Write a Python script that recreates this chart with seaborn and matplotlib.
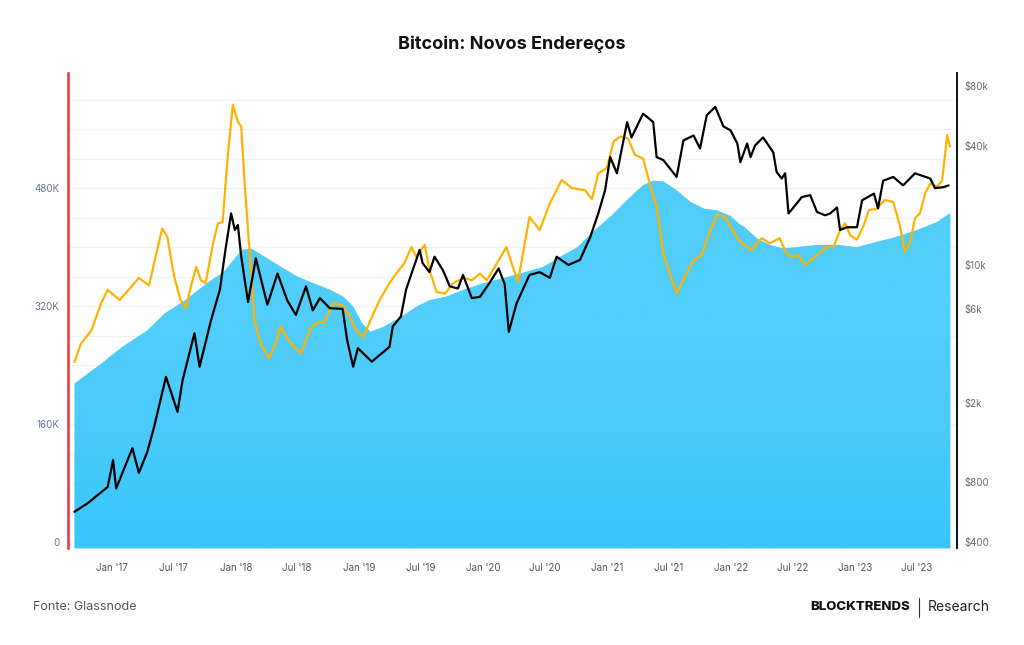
import numpy as np
import pandas as pd
import matplotlib
matplotlib.use("Agg")
import matplotlib.pyplot as plt
import matplotlib.dates as mdates
from matplotlib.colors import LinearSegmentedColormap
from matplotlib.lines import Line2D
from matplotlib.ticker import FixedLocator, MultipleLocator, FuncFormatter, NullFormatter
import seaborn as sns

# --- data ---
# new addresses, smooth (area, left axis, thousands)
area_dates = ["2016-09-12", "2016-11-30", "2017-02-01", "2017-04-15", "2017-06-05", "2017-08-05",
              "2017-10-08", "2017-11-28", "2018-01-17", "2018-02-16", "2018-04-27", "2018-07-01",
              "2018-08-07", "2018-10-06", "2018-11-13", "2018-12-13", "2019-01-07", "2019-02-02",
              "2019-03-13", "2019-05-02", "2019-06-17", "2019-07-26", "2019-09-15", "2019-11-03",
              "2020-01-01", "2020-02-29", "2020-04-17", "2020-06-25", "2020-08-15", "2020-10-05",
              "2020-11-24", "2021-01-09", "2021-02-28", "2021-04-16", "2021-05-16", "2021-06-15",
              "2021-07-24", "2021-09-03", "2021-10-13", "2021-11-20", "2021-12-30", "2022-01-28",
              "2022-02-07", "2022-03-17", "2022-04-25", "2022-06-04", "2022-07-13", "2022-09-11",
              "2022-11-09", "2023-01-07", "2023-03-06", "2023-05-04", "2023-07-02", "2023-08-31",
              "2023-10-08"]
area_k = [215, 242, 265, 287, 310, 328, 351, 367, 396, 398, 378, 360, 353, 342, 333, 319, 297, 285,
          292, 305, 319, 328, 333, 342, 351, 358, 364, 373, 387, 400, 423, 441, 464, 484, 490, 489,
          477, 461, 452, 450, 442, 430, 428, 412, 403, 398, 400, 403, 403, 400, 407, 414, 423, 434,
          446]

# new addresses, moving average (orange line, left axis, thousands)
orange_dates = ["2016-09-12", "2016-10-01", "2016-11-01", "2016-11-30", "2016-12-19", "2017-01-23",
                "2017-03-02", "2017-03-21", "2017-04-20", "2017-05-14", "2017-05-29", "2017-06-13",
                "2017-07-03", "2017-07-22", "2017-08-07", "2017-08-21", "2017-09-06", "2017-09-20",
                "2017-10-04", "2017-10-25", "2017-11-09", "2017-11-23", "2017-12-08", "2017-12-23",
                "2018-01-07", "2018-01-17", "2018-01-27", "2018-02-11", "2018-02-25", "2018-03-15",
                "2018-04-09", "2018-04-28", "2018-05-13", "2018-06-02", "2018-07-01", "2018-07-12",
                "2018-08-07", "2018-08-27", "2018-09-20", "2018-10-15", "2018-11-13", "2018-11-28",
                "2018-12-22", "2019-01-12", "2019-02-06", "2019-03-01", "2019-03-30", "2019-04-24",
                "2019-05-13", "2019-06-03", "2019-06-17", "2019-07-12", "2019-07-26", "2019-08-16",
                "2019-09-10", "2019-10-04", "2019-11-03", "2019-11-28", "2019-12-22", "2020-01-11",
                "2020-02-10", "2020-03-09", "2020-03-28", "2020-04-12", "2020-05-16", "2020-06-15",
                "2020-07-15", "2020-08-19", "2020-09-18", "2020-10-27", "2020-11-16", "2020-12-05",
                "2020-12-30", "2021-01-19", "2021-02-08", "2021-03-03", "2021-03-23", "2021-04-16",
                "2021-05-06", "2021-05-26", "2021-06-15", "2021-07-04", "2021-07-24", "2021-08-18",
                "2021-09-12", "2021-10-06", "2021-11-01", "2021-11-20", "2021-12-14", "2022-01-04",
                "2022-01-28", "2022-02-07", "2022-03-02", "2022-04-01", "2022-04-25", "2022-05-24",
                "2022-06-13", "2022-06-28", "2022-07-17", "2022-08-07", "2022-09-11", "2022-10-10",
                "2022-10-30", "2022-11-18", "2022-12-03", "2022-12-18", "2023-01-07", "2023-01-27",
                "2023-02-11", "2023-03-06", "2023-03-30", "2023-04-24", "2023-05-14", "2023-05-28",
                "2023-06-12", "2023-06-27", "2023-07-12", "2023-07-27", "2023-08-11", "2023-08-31",
                "2023-09-15", "2023-09-30", "2023-10-08"]
orange_k = [244, 269, 287, 324, 342, 328, 348, 358, 348, 396, 425, 414, 360, 328, 317, 346, 373, 355,
            351, 403, 432, 434, 522, 593, 570, 563, 486, 391, 301, 269, 249, 269, 292, 276, 260, 256,
            287, 297, 299, 324, 321, 310, 287, 278, 305, 328, 351, 367, 378, 400, 387, 403, 369, 339,
            337, 351, 358, 355, 364, 355, 378, 400, 373, 353, 441, 423, 459, 491, 480, 477, 465, 500,
            507, 543, 550, 547, 525, 520, 486, 455, 391, 364, 337, 360, 382, 389, 423, 443, 441, 423,
            407, 403, 396, 412, 405, 412, 391, 387, 389, 376, 389, 400, 400, 423, 432, 416, 410, 430,
            450, 452, 464, 461, 428, 394, 405, 439, 446, 473, 486, 482, 490, 552, 536]

# bitcoin price (black line, right log axis, USD)
price_dates = ["2016-09-12", "2016-10-22", "2016-12-19", "2017-01-04", "2017-01-13", "2017-03-02",
               "2017-03-21", "2017-04-15", "2017-05-05", "2017-06-09", "2017-07-13", "2017-07-28",
               "2017-09-01", "2017-09-16", "2017-10-20", "2017-11-15", "2017-11-30", "2017-12-18",
               "2017-12-29", "2018-01-07", "2018-01-17", "2018-02-06", "2018-03-01", "2018-04-04",
               "2018-05-04", "2018-06-02", "2018-06-27", "2018-07-27", "2018-08-16", "2018-09-06",
               "2018-10-05", "2018-11-12", "2018-11-25", "2018-12-13", "2018-12-27", "2019-02-06",
               "2019-03-30", "2019-04-09", "2019-05-03", "2019-05-18", "2019-06-27", "2019-07-06",
               "2019-07-26", "2019-08-10", "2019-09-04", "2019-09-24", "2019-10-18", "2019-11-02",
               "2019-11-28", "2019-12-22", "2020-01-21", "2020-02-15", "2020-03-04", "2020-03-16",
               "2020-04-08", "2020-05-16", "2020-06-15", "2020-07-15", "2020-08-04", "2020-09-08",
               "2020-10-12", "2020-11-11", "2020-12-05", "2020-12-25", "2021-01-09", "2021-01-29",
               "2021-02-28", "2021-03-13", "2021-04-16", "2021-05-16", "2021-05-26", "2021-06-15",
               "2021-07-24", "2021-08-13", "2021-09-12", "2021-10-01", "2021-10-21", "2021-11-15",
               "2021-12-09", "2021-12-30", "2022-01-19", "2022-01-28", "2022-02-17", "2022-02-27",
               "2022-03-12", "2022-04-05", "2022-05-05", "2022-05-15", "2022-05-30", "2022-06-09",
               "2022-06-19", "2022-07-13", "2022-07-28", "2022-08-22", "2022-09-11", "2022-10-05",
               "2022-10-20", "2022-11-09", "2022-11-18", "2022-12-08", "2023-01-07", "2023-01-22",
               "2023-02-26", "2023-03-10", "2023-03-25", "2023-04-24", "2023-05-23", "2023-06-27",
               "2023-08-11", "2023-08-25", "2023-09-19", "2023-10-04"]
price_usd = [568, 629, 758, 1036, 745, 1190, 893, 1141, 1524, 2725, 1814, 2620, 4520, 3065, 5270,
             7500, 11500, 18200, 15000, 15900, 11000, 6500, 10800, 6300, 9050, 6600, 5600, 7800,
             5900, 6800, 6050, 6000, 4200, 3065, 3800, 3250, 3860, 4900, 5500, 7500, 11900, 10200,
             9200, 11000, 9400, 7800, 7600, 8900, 6800, 6900, 8200, 9600, 8000, 4600, 6400, 8900,
             9200, 8600, 11000, 10000, 10600, 13800, 18200, 23800, 35000, 29000, 52600, 44000,
             58000, 52600, 35000, 33800, 27800, 42500, 45000, 38700, 57000, 62700, 50000, 47800,
             41000, 33000, 41000, 35000, 40000, 44000, 37000, 29400, 27300, 29000, 18200, 20400,
             22000, 22500, 18500, 17800, 18200, 19500, 15000, 15500, 15500, 21200, 22900, 19300,
             26600, 27800, 25200, 29000, 27300, 24400, 24700, 25200]

left_ticks = [0, 160, 320, 480]
right_ticks = [400, 800, 2000, 6000, 10000, 40000, 80000]
right_labels = ["$400", "$800", "$2k", "$6k", "$10k", "$40k", "$80k"]

area = pd.DataFrame({"date": pd.to_datetime(area_dates), "k": area_k})
orange = pd.DataFrame({"date": pd.to_datetime(orange_dates), "k": orange_k})
price = pd.DataFrame({"date": pd.to_datetime(price_dates), "usd": price_usd})

sns.set_theme(style="white")
plt.rcParams["font.family"] = ["Inter", "DejaVu Sans"]

fig = plt.figure(figsize=(10.24, 6.45), dpi=100)
ax = fig.add_axes([0.0664, 0.1504, 0.8682, 0.7364])

ybot, ytop = -8.1, 636
xlo, xhi = pd.Timestamp("2016-08-24"), pd.Timestamp("2023-10-29")

# blue area, a touch deeper near the bottom
poly = ax.fill_between(area["date"], area["k"], ybot, color="#4fcdf9", lw=0, zorder=1)
grad = LinearSegmentedColormap.from_list(
    "g", [(0, "#36c6fe"), (0.3, "#4acbfa"), (0.55, "#50cdf9"), (1, "#52cdf8")])
im = ax.imshow(np.linspace(0, 1, 256).reshape(-1, 1), cmap=grad, origin="lower", aspect="auto",
               extent=[mdates.date2num(xlo), mdates.date2num(xhi), ybot, 500], zorder=1.1)
im.set_clip_path(poly.get_paths()[0], transform=ax.transData)

sns.lineplot(data=orange, x="date", y="k", ax=ax, color="#ffb300", lw=1.6, zorder=3, legend=False)

ax.set_xlim(xlo, xhi)
ax.set_ylim(ybot, ytop)
ax.yaxis.set_major_locator(FixedLocator(left_ticks))
ax.yaxis.set_major_formatter(FuncFormatter(lambda v, p: "0" if v == 0 else f"{int(v)}K"))
ax.yaxis.set_minor_locator(MultipleLocator(40))
ax.grid(which="both", axis="y", color="#f1f1f1", lw=0.8)
ax.set_axisbelow(True)
ax.set_xlabel("")
ax.set_ylabel("")

ax2 = ax.twinx()
sns.lineplot(data=price, x="date", y="usd", ax=ax2, color="black", lw=1.6, legend=False)
ax2.set_yscale("log")
ax2.set_ylim(373, 93000)
ax2.yaxis.set_major_locator(FixedLocator(right_ticks))
ax2.yaxis.set_major_formatter(FuncFormatter(lambda v, p: right_labels[right_ticks.index(int(round(v)))]
                                            if int(round(v)) in right_ticks else ""))
ax2.yaxis.set_minor_formatter(NullFormatter())
ax2.set_ylabel("")
ax2.set_xlim(xlo, xhi)

ax.xaxis.set_major_locator(mdates.MonthLocator(bymonth=[1, 7]))
ax.xaxis.set_major_formatter(mdates.DateFormatter("%b '%y"))

for s in ["top", "bottom"]:
    ax.spines[s].set_visible(False)
    ax2.spines[s].set_visible(False)
ax.spines["right"].set_visible(False)
ax2.spines["left"].set_visible(False)
ax.spines["left"].set_color("#f43b3b")
ax.spines["left"].set_linewidth(1.9)
ax2.spines["right"].set_color("#111111")
ax2.spines["right"].set_linewidth(1.4)

ax.tick_params(axis="x", which="major", length=6, color="#e4e4e4", pad=5, labelsize=7, labelcolor="#555555")
ax.tick_params(axis="y", which="both", length=0, pad=6, labelsize=7, labelcolor="#65788f")
ax2.tick_params(axis="y", which="both", length=0, pad=5, labelsize=7, labelcolor="#6f6a6a")

fig.text(0.5, 1 - 44 / 645, "Bitcoin: Novos Endereços", ha="center", va="center",
         fontsize=13, fontweight="bold", color="#111111")
fig.text(33 / 1024, 1 - 607 / 645, "Fonte: Glassnode", ha="left", va="center",
         fontsize=9, color="#555555")
fig.text(910 / 1024, 1 - 607 / 645, "BLOCKTRENDS", ha="right", va="center",
         fontsize=9.5, fontweight="heavy", color="#111111")
fig.add_artist(Line2D([919 / 1024, 919 / 1024], [1 - 598 / 645, 1 - 617 / 645],
                      transform=fig.transFigure, color="#333333", lw=0.8))
fig.text(928 / 1024, 1 - 607 / 645, "Research", ha="left", va="center",
         fontsize=10, color="#222222")

fig.savefig("out.png", dpi=100)
